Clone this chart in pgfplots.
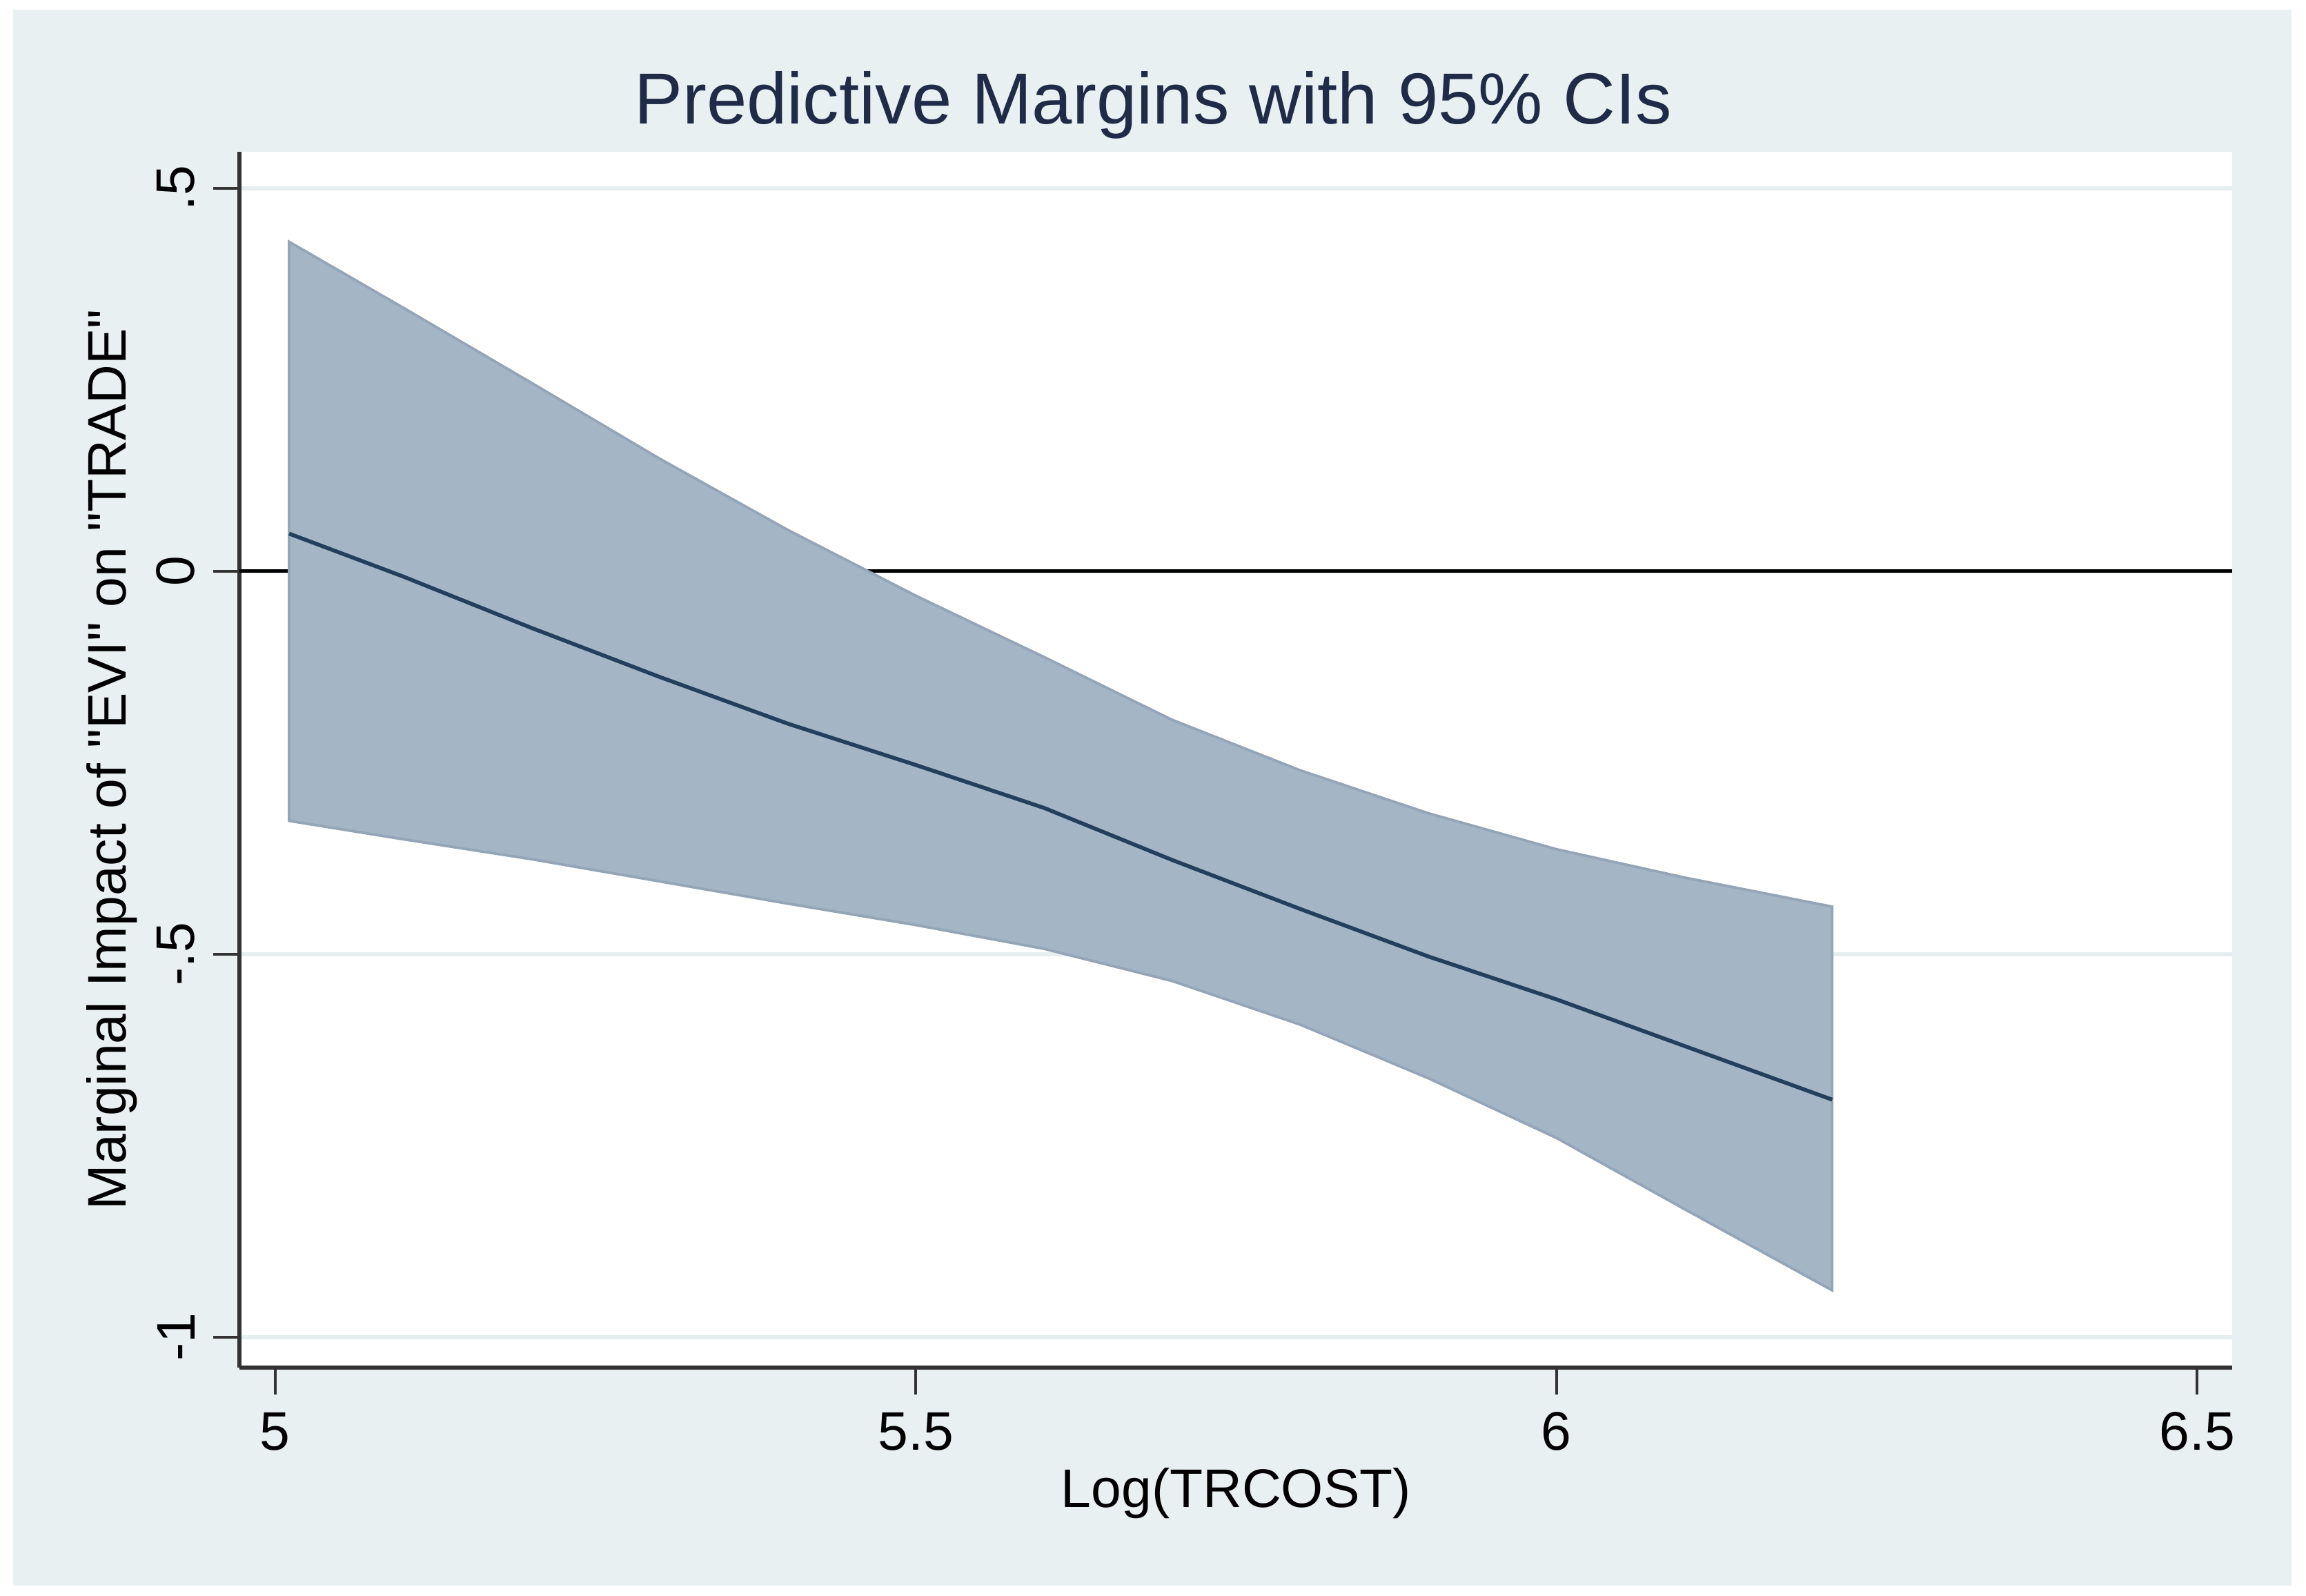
\documentclass[border=0pt]{standalone}
\usepackage{fontspec}
\setmainfont{Liberation Sans}[Ligatures=TeXOff]
\usepackage{pgfplots}
\pgfplotsset{compat=1.18}

\definecolor{bgblue}{HTML}{E8F0F2}
\definecolor{gridc}{HTML}{E6EEF0}
\definecolor{bandfill}{HTML}{A4B5C6}
\definecolor{bandedge}{HTML}{93A5B6}
\definecolor{meanline}{HTML}{243F5C}
\definecolor{titlec}{HTML}{1F2B47}
\definecolor{axisc}{HTML}{333333}

% background layer under everything pgfplots draws
\pgfdeclarelayer{bglayer}
\pgfplotsset{
  layers/withbg/.define layer set={bglayer,axis background,axis grid,axis ticks,axis lines,axis tick labels,pre main,main,axis descriptions,axis foreground}{},
}

% margin line
\pgfplotstableread{
x       m
5.011   0.049
5.1    -0.007
5.2    -0.074
5.3    -0.138
5.4    -0.199
5.5    -0.253
5.6    -0.309
5.7    -0.377
5.8    -0.441
5.9    -0.503
6.0    -0.559
6.1    -0.620
6.2152 -0.690
}\margin

% 95% CI band: upper bound left to right, then lower bound right to left
\pgfplotstableread{
x       y
5.011   0.430
5.1     0.344
5.2     0.246
5.3     0.147
5.4     0.054
5.5    -0.032
5.6    -0.112
5.7    -0.194
5.8    -0.260
5.9    -0.316
6.0    -0.363
6.1    -0.400
6.2152 -0.438
6.2152 -0.939
6.1    -0.833
6.0    -0.740
5.9    -0.662
5.8    -0.592
5.7    -0.535
5.6    -0.493
5.5    -0.462
5.4    -0.434
5.3    -0.405
5.2    -0.376
5.1    -0.350
5.011  -0.326
}\band

\begin{document}
\begin{tikzpicture}
\begin{axis}[
    set layers=withbg,
    scale only axis,
    width=135.5mm, height=82.7mm,
    at={(0,0)}, anchor=south west,
    xmin=4.9724, xmax=6.5276,
    ymin=-1.040, ymax=0.548,
    axis x line*=bottom, axis y line*=left,
    axis line style={axisc, line width=0.8pt, -},
    axis background/.style={fill=white},
    xtick={5,5.5,6,6.5}, xticklabels={5,5.5,6,6.5},
    ytick={-1,-0.5,0,0.5}, yticklabels={-1,-.5,0,.5},
    tick align=outside, major tick length=1.8mm,
    tick style={axisc, line width=0.5pt},
    ymajorgrids, grid style={gridc, line width=0.8pt},
    ticklabel style={font=\fontsize{10.5}{12}\selectfont, black},
    yticklabel style={rotate=90, anchor=south},
    xlabel={Log(TRCOST)},
    ylabel={Marginal Impact of "EVI" on "TRADE"},
    label style={font=\fontsize{10.5}{12}\selectfont, black},
    xlabel style={at={(axis description cs:0.5,-0.115)}, anchor=base},
    ylabel style={at={(axis description cs:-0.057,0.5)}, anchor=base},
    clip=false,
]
\begin{pgfonlayer}{bglayer}
\fill[white] ([shift={(-16.3mm,-15.5mm)}]rel axis cs:0,0) rectangle ([shift={(5.0mm,10.3mm)}]rel axis cs:1,1);
\fill[bgblue] ([shift={(-15.4mm,-14.8mm)}]rel axis cs:0,0) rectangle ([shift={(4.0mm,9.65mm)}]rel axis cs:1,1);
\end{pgfonlayer}
\addplot[black, line width=0.7pt] coordinates {(4.9724,0) (6.5276,0)};
\addplot[fill=bandfill, draw=bandedge, line width=0.5pt] table[x=x, y=y] {\band} -- cycle;
\addplot[meanline, line width=0.75pt] table[x=x, y=m] {\margin};
\end{axis}
\node[anchor=base, text=titlec, font=\fontsize{14}{16}\selectfont] at (62.1mm,84.6mm) {Predictive Margins with 95\% CIs};
\end{tikzpicture}
\end{document}
